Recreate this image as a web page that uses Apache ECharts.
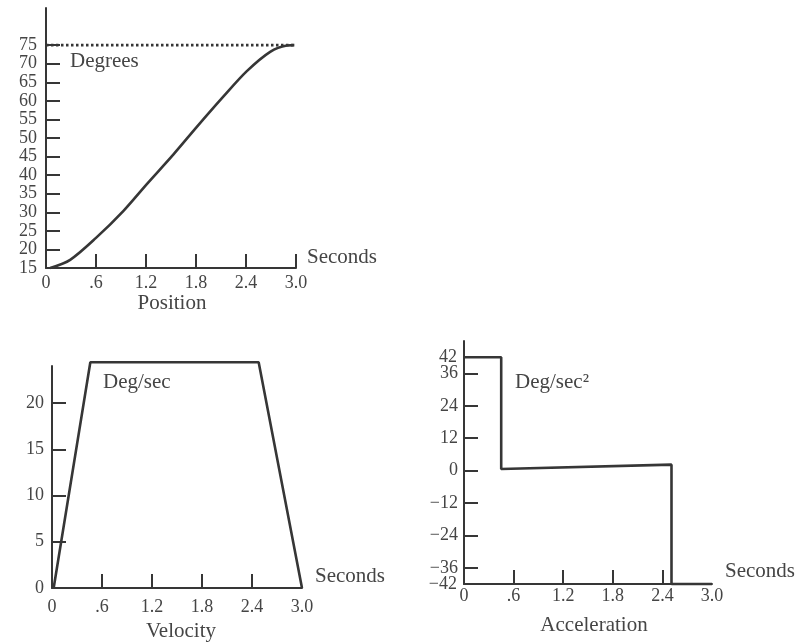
<!DOCTYPE html>
<html>
<head>
<meta charset="utf-8">
<title>Position, Velocity and Acceleration</title>
<script src="https://cdn.jsdelivr.net/npm/echarts@6/dist/echarts.min.js"></script>
<style>
  html, body { margin: 0; padding: 0; background: #ffffff; }
  #chart { width: 798px; height: 644px; }
</style>
</head>
<body>
<div id="chart"></div>
<script>
// Time axis shared by all three panels (seconds)
const timeTicks = [0, 0.6, 1.2, 1.8, 2.4, 3.0];
const timeTickLabels = ['0', '.6', '1.2', '1.8', '2.4', '3.0'];

// Position (degrees) over time
const posTime = [0.05, 0.29, 0.6, 0.93, 1.21, 1.53, 1.81, 2.13, 2.41, 2.69, 2.89, 2.98];
const posDeg = [15, 17.2, 23.1, 30.4, 37.6, 45.6, 53.0, 61.2, 68.0, 73.2, 74.9, 75];
const posGoal = 75;
const posTicks = [15, 20, 25, 30, 35, 40, 45, 50, 55, 60, 65, 70, 75];

// Velocity (deg/sec)
const velTime = [0.02, 0.46, 2.48, 3.0];
const velValue = [0, 24.4, 24.4, 0];
const velTicks = [0, 5, 10, 15, 20];

// Acceleration (deg/sec^2)
const accTime = [0, 0.45, 0.45, 2.51, 2.51, 3.0];
const accValue = [42, 42, 0.6, 2.2, -42, -42];
const accTicks = [-42, -36, -24, -12, 0, 12, 24, 36, 42];
const accTickLabels = ['\u221242', '\u221236', '\u221224', '\u221212', '0', '12', '24', '36', '42'];

const ink = '#363636';
const textInk = '#454545';
const serif = '"Liberation Serif", "Times New Roman", serif';

function zip(xs, ys) { return xs.map((x, i) => [x, ys[i]]); }

function labelFor(values, texts) {
  return v => {
    const i = values.findIndex(t => Math.abs(t - v) < 1e-6);
    return texts ? texts[i] : String(values[i]);
  };
}

function timeAxis(gridIndex, tickValues, labelMargin) {
  return {
    type: 'value', gridIndex: gridIndex, min: 0, max: 3,
    axisLine: { show: true, onZero: false, lineStyle: { color: ink, width: 2 } },
    axisTick: { show: true, inside: true, length: 14, customValues: tickValues,
                lineStyle: { color: ink, width: 2 } },
    axisLabel: { show: true, customValues: timeTicks, margin: labelMargin,
                 showMinLabel: true, showMaxLabel: true,
                 color: textInk, fontFamily: serif, fontSize: 18,
                 formatter: labelFor(timeTicks, timeTickLabels) },
    splitLine: { show: false }
  };
}

function valueAxis(gridIndex, min, max, tickValues, labelValues, labelText, labelMargin) {
  return {
    type: 'value', gridIndex: gridIndex, min: min, max: max, position: 'left', offset: 0,
    axisLine: { show: true, onZero: false, lineStyle: { color: ink, width: 2 } },
    axisTick: { show: true, inside: true, length: 14, customValues: tickValues,
                lineStyle: { color: ink, width: 2 } },
    axisLabel: { show: true, customValues: labelValues, margin: labelMargin,
                 showMinLabel: true, showMaxLabel: true,
                 color: textInk, fontFamily: serif, fontSize: 18,
                 formatter: labelFor(labelValues, labelText) },
    splitLine: { show: false }
  };
}

// Extra label-only axis for the ±42 limits, which sit close to the ±36 labels
function limitLabelAxis(gridIndex, min, max, labelValues, labelText, labelMargin) {
  return {
    type: 'value', gridIndex: gridIndex, min: min, max: max, position: 'left', offset: 0,
    axisLine: { show: false, onZero: false },
    axisTick: { show: false },
    axisLabel: { show: true, customValues: labelValues, margin: labelMargin,
                 showMinLabel: true, showMaxLabel: true,
                 color: textInk, fontFamily: serif, fontSize: 18,
                 formatter: labelFor(labelValues, labelText) },
    splitLine: { show: false }
  };
}

function caption(text, x, y, align) {
  return {
    type: 'text', x: x, y: y, silent: true,
    style: { text: text, fill: textInk, font: '21px ' + serif,
             align: align, verticalAlign: 'middle',
             textAlign: align, textVerticalAlign: 'middle' }
  };
}

const lineStyle = { color: ink, width: 2.6 };

const accInner = accTicks.slice(1, -1);
const accInnerText = accTickLabels.slice(1, -1);
const accLimits = [accTicks[0], accTicks[accTicks.length - 1]];
const accLimitText = [accTickLabels[0], accTickLabels[accTickLabels.length - 1]];

const option = {
  backgroundColor: '#ffffff',
  animation: false,
  grid: [
    { left: 46, top: 8, width: 250, height: 260 },
    { left: 52, top: 366, width: 250, height: 222 },
    { left: 464, top: 341, width: 248, height: 243 }
  ],
  xAxis: [
    timeAxis(0, [0.6, 1.2, 1.8, 2.4, 3.0], 6),
    timeAxis(1, [0.6, 1.2, 1.8, 2.4], 10),
    timeAxis(2, [0.6, 1.2, 1.8, 2.4], 3)
  ],
  yAxis: [
    valueAxis(0, 15, 85, posTicks.slice(1), posTicks, null, 9),
    valueAxis(1, 0, 24, velTicks.slice(1), velTicks, null, 8),
    valueAxis(2, -42, 48, accInner, accInner, accInnerText, 6),
    limitLabelAxis(2, -42, 48, accLimits, accLimitText, 7)
  ],
  series: [
    {
      name: 'Position', type: 'line', xAxisIndex: 0, yAxisIndex: 0,
      data: zip(posTime, posDeg), smooth: 0.3, showSymbol: false,
      lineStyle: lineStyle, clip: false
    },
    {
      name: 'Goal', type: 'line', xAxisIndex: 0, yAxisIndex: 0,
      data: [[0, posGoal], [posTime[posTime.length - 1], posGoal]], showSymbol: false,
      lineStyle: { color: ink, width: 2.6, type: [2.5, 2.5] }, clip: false
    },
    {
      name: 'Velocity', type: 'line', xAxisIndex: 1, yAxisIndex: 1,
      data: zip(velTime, velValue), showSymbol: false,
      lineStyle: lineStyle, clip: false
    },
    {
      name: 'Acceleration', type: 'line', xAxisIndex: 2, yAxisIndex: 2,
      data: zip(accTime, accValue), showSymbol: false,
      lineStyle: lineStyle, clip: false
    }
  ],
  graphic: [
    caption('Degrees', 70, 61, 'left'),
    caption('Seconds', 307, 257, 'left'),
    caption('Position', 172, 303, 'center'),
    caption('Deg/sec', 103, 382, 'left'),
    caption('Seconds', 315, 576, 'left'),
    caption('Velocity', 181, 631, 'center'),
    caption('Deg/sec\u00B2', 515, 382, 'left'),
    caption('Seconds', 725, 571, 'left'),
    caption('Acceleration', 594, 625, 'center')
  ]
};

const chart = echarts.init(document.getElementById('chart'), null, { renderer: 'canvas' });
chart.setOption(option);
</script>
</body>
</html>
